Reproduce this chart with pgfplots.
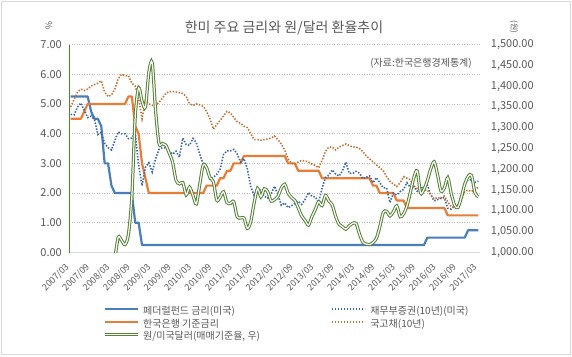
\documentclass[border=0pt]{standalone}
\usepackage{fontspec}
\setmainfont{Noto Sans CJK KR}
\usepackage{pgfplots}
\usepackage{pgfplotstable}
\pgfplotsset{compat=1.18}
\definecolor{fedblue}{RGB}{74,126,187}
\definecolor{bokorange}{RGB}{232,125,55}
\definecolor{ustblue}{RGB}{55,100,168}
\definecolor{ktborange}{RGB}{196,112,52}
\definecolor{krwgreen}{RGB}{84,130,53}
\definecolor{txtgray}{RGB}{89,89,89}
\definecolor{gridgray}{RGB}{190,190,190}
\definecolor{bordergray}{RGB}{217,217,217}

\pgfplotstableread{
m ff bok ust ktb krw
0 5.25 4.50 4.65 4.90 943
1 5.25 4.50 4.63 5.15 930
2 5.25 4.50 4.89 5.40 928
3 5.25 4.50 5.03 5.50 929
4 5.25 4.75 4.78 5.45 920
5 5.25 5.00 4.54 5.50 937
6 4.75 5.00 4.59 5.60 930
7 4.50 5.00 4.48 5.65 915
8 4.50 5.00 3.97 5.70 917
9 4.25 5.00 4.04 5.78 932
10 3.00 5.00 3.67 5.40 942
11 3.00 5.00 3.53 5.25 945
12 2.25 5.00 3.45 5.30 990
13 2.00 5.00 3.77 5.50 990
14 2.00 5.00 4.06 5.85 1037
15 2.00 5.00 3.99 6.00 1029
16 2.00 5.00 3.99 5.95 1019
17 2.00 5.25 3.83 5.95 1044
18 2.00 5.25 3.85 5.70 1134
19 1.00 4.25 4.01 5.60 1327
20 1.00 4.00 2.93 5.20 1396
21 0.25 3.00 2.25 4.50 1364
22 0.25 2.50 2.87 5.10 1350
23 0.25 2.00 3.02 5.00 1432
24 0.25 2.00 2.71 4.95 1456
25 0.25 2.00 3.16 4.95 1340
26 0.25 2.00 3.47 5.05 1262
27 0.25 2.00 3.53 5.20 1262
28 0.25 2.00 3.52 5.35 1258
29 0.25 2.00 3.40 5.42 1239
30 0.25 2.00 3.31 5.42 1217
31 0.25 2.00 3.41 5.40 1174
32 0.25 2.00 3.21 5.38 1165
33 0.25 2.00 3.85 5.35 1168
34 0.25 2.00 3.63 5.25 1139
35 0.25 2.00 3.61 5.00 1157
36 0.25 2.00 3.84 4.95 1137
37 0.25 2.00 3.69 5.00 1117
38 0.25 2.00 3.31 4.97 1164
39 0.25 2.00 2.97 4.92 1210
40 0.25 2.25 2.94 4.75 1204
41 0.25 2.25 2.47 4.50 1180
42 0.25 2.25 2.53 4.15 1170
43 0.25 2.25 2.63 4.30 1126
44 0.25 2.50 2.81 4.45 1133
45 0.25 2.50 3.30 4.60 1146
46 0.25 2.75 3.42 4.75 1120
47 0.25 2.75 3.42 4.70 1118
48 0.25 3.00 3.47 4.55 1122
49 0.25 3.00 3.32 4.40 1086
50 0.25 3.00 3.05 4.35 1083
51 0.25 3.25 3.16 4.25 1083
52 0.25 3.25 2.82 4.20 1058
53 0.25 3.25 2.22 4.00 1074
54 0.25 3.25 1.92 3.80 1119
55 0.25 3.25 2.17 3.80 1154
56 0.25 3.25 2.08 3.78 1134
57 0.25 3.25 1.89 3.80 1153
58 0.25 3.25 1.83 3.82 1146
59 0.25 3.25 1.98 3.85 1124
60 0.25 3.25 2.23 3.92 1127
61 0.25 3.25 1.95 3.80 1135
62 0.25 3.25 1.59 3.65 1155
63 0.25 3.25 1.67 3.45 1164
64 0.25 3.00 1.51 3.15 1143
65 0.25 3.00 1.57 3.00 1132
66 0.25 3.00 1.65 2.97 1125
67 0.25 2.75 1.72 3.05 1107
68 0.25 2.75 1.62 3.10 1088
69 0.25 2.75 1.78 3.08 1077
70 0.25 2.75 2.02 3.05 1066
71 0.25 2.75 1.89 2.97 1086
72 0.25 2.75 1.87 2.93 1103
73 0.25 2.75 1.70 2.85 1122
74 0.25 2.50 2.16 3.10 1113
75 0.25 2.50 2.52 3.40 1137
76 0.25 2.50 2.60 3.55 1124
77 0.25 2.50 2.78 3.55 1114
78 0.25 2.50 2.64 3.45 1087
79 0.25 2.50 2.57 3.55 1068
80 0.25 2.50 2.75 3.60 1062
81 0.25 2.50 3.04 3.65 1056
82 0.25 2.50 2.67 3.60 1064
83 0.25 2.50 2.66 3.55 1070
84 0.25 2.50 2.73 3.55 1070
85 0.25 2.50 2.67 3.50 1045
86 0.25 2.50 2.48 3.40 1025
87 0.25 2.50 2.53 3.25 1020
88 0.25 2.50 2.58 3.15 1019
89 0.25 2.25 2.35 3.05 1024
90 0.25 2.25 2.52 2.95 1034
91 0.25 2.00 2.35 2.85 1062
92 0.25 2.00 2.18 2.75 1096
93 0.25 2.00 2.17 2.55 1099
94 0.25 2.00 1.68 2.40 1088
95 0.25 2.00 2.00 2.30 1098
96 0.25 1.75 1.94 2.22 1112
97 0.25 1.75 2.05 2.35 1086
98 0.25 1.75 2.12 2.55 1093
99 0.25 1.50 2.35 2.50 1112
100 0.25 1.50 2.18 2.45 1145
101 0.25 1.50 2.22 2.25 1179
102 0.25 1.50 2.06 2.15 1196
103 0.25 1.50 2.16 2.10 1143
104 0.25 1.50 2.21 2.10 1152
105 0.50 1.50 2.27 2.10 1173
106 0.50 1.50 1.94 1.95 1201
107 0.50 1.50 1.74 1.80 1218
108 0.50 1.50 1.78 1.85 1187
109 0.50 1.50 1.83 1.82 1148
110 0.50 1.50 1.84 1.90 1155
111 0.50 1.25 1.49 1.70 1180
112 0.50 1.25 1.46 1.55 1143
113 0.50 1.25 1.58 1.50 1114
114 0.50 1.25 1.60 1.55 1108
115 0.50 1.25 1.84 1.75 1133
116 0.50 1.25 2.37 2.05 1164
117 0.75 1.25 2.45 2.10 1183
118 0.75 1.25 2.45 2.05 1185
119 0.75 1.25 2.36 2.15 1144
120 0.75 1.25 2.40 2.18 1134
}\datatable

\begin{document}
\begin{tikzpicture}[x=1pt,y=1pt]
\path[use as bounding box] (0,0) rectangle (572,356);
\fill[white] (0,0) rectangle (572,356);
\draw[bordergray, line width=1pt] (1.5,1.5) rectangle (570.5,354.5);

\node[text=txtgray, font=\fontsize{14}{16}\selectfont, inner sep=0pt] at (284,328) {한미 주요 금리와 원/달러 환율추이};
\node[text=txtgray, font=\fontsize{10}{12}\selectfont, inner sep=0pt, anchor=east] at (472,293) {(자료:한국은행경제통계)};
\node[text=txtgray, font=\fontsize{9}{11}\selectfont, inner sep=0pt, rotate=-90] at (49,330) {\%};
\node[text=txtgray, font=\fontsize{8}{10}\selectfont, inner sep=0pt, rotate=-90] at (514,329) {(원)};

\begin{axis}[
  at={(69pt,103.5pt)}, anchor=south west,
  scale only axis, width=411pt, height=208pt,
  xmin=-0.5, xmax=120.5, ymin=0, ymax=7,
  axis x line*=bottom, axis y line*=left,
  x axis line style={draw=bordergray, line width=0.8pt, -},
  y axis line style={draw=krwgreen, line width=0.8pt, -},
  xtick={0,6,...,120},
  xticklabels={2007/03,2007/09,2008/03,2008/09,2009/03,2009/09,2010/03,2010/09,2011/03,2011/09,2012/03,2012/09,2013/03,2013/09,2014/03,2014/09,2015/03,2015/09,2016/03,2016/09,2017/03},
  ytick={0,1,...,7},
  scaled y ticks=false,
  major tick length=0pt,
  ymajorgrids,
  grid style={gridgray, line width=0.6pt, dash pattern=on 1pt off 1.5pt},
  yticklabel={\pgfmathprintnumber[fixed,fixed zerofill,precision=2,assume math mode=true]{\tick}},
  yticklabel style={font=\fontsize{11}{13}\selectfont, text=txtgray, inner sep=0pt, anchor=east, xshift=-7pt},
  xticklabel style={font=\fontsize{9}{11}\selectfont, text=txtgray, inner sep=0pt, xshift=-3pt, yshift=-13pt, anchor=east, rotate=45},
]
\addplot[fedblue, line width=2.2pt, line join=round] table[x=m,y=ff]{\datatable};
\addplot[bokorange, line width=2.2pt, line join=round] table[x=m,y=bok]{\datatable};
\addplot[ustblue, line width=1.6pt, dash pattern=on 1.4pt off 1.6pt] table[x=m,y=ust]{\datatable};
\addplot[ktborange, line width=1.6pt, dash pattern=on 1.4pt off 1.6pt] table[x=m,y=ktb]{\datatable};
\end{axis}

\begin{axis}[
  at={(69pt,103.5pt)}, anchor=south west,
  scale only axis, width=411pt, height=208pt,
  xmin=-0.5, xmax=120.5, ymin=1000, ymax=1500,
  axis y line*=right, axis x line=none,
  y axis line style={draw=none},
  ytick={1000,1050,...,1500},
  scaled y ticks=false,
  major tick length=0pt,
  yticklabel={\pgfmathprintnumber[fixed,fixed zerofill,precision=2,1000 sep={,},assume math mode=true]{\tick}},
  yticklabel style={font=\fontsize{11}{13}\selectfont, text=txtgray, inner sep=0pt, anchor=west, xshift=10.7pt},
  legend columns=2,
  legend cell align=left,
  legend image code/.code={\draw[#1] (0pt,3.2pt) -- (33pt,3.2pt);},
  legend style={at={(0.0827,-0.2644)}, anchor=north west, draw=none, fill=none, inner sep=0pt, outer sep=0pt,
    font=\fontsize{10}{12}\selectfont, text=txtgray,
    nodes={inner sep=0pt, text height=7.5pt, text depth=2.5pt},
    row sep=2.5pt,
    /tikz/column 1/.style={column sep=4pt},
    /tikz/column 2/.style={column sep=71pt},
    /tikz/column 3/.style={column sep=4.6pt}},
]
\addlegendimage{fedblue, line width=2.2pt}
\addlegendentry{페더럴펀드 금리(미국)}
\addlegendimage{ustblue, line width=1.6pt, dash pattern=on 1.4pt off 1.6pt}
\addlegendentry{재무부증권(10년)(미국)}
\addlegendimage{bokorange, line width=2.2pt}
\addlegendentry{한국은행 기준금리}
\addlegendimage{ktborange, line width=1.6pt, dash pattern=on 1.4pt off 1.6pt}
\addlegendentry{국고채(10년)}
\addplot[krwgreen, line width=1pt, double=white, double distance=1.2pt, smooth, tension=0.5] table[x=m,y=krw]{\datatable};
\addlegendentry{원/미국달러(매매기준율, 우)}
\end{axis}
\end{tikzpicture}
\end{document}
